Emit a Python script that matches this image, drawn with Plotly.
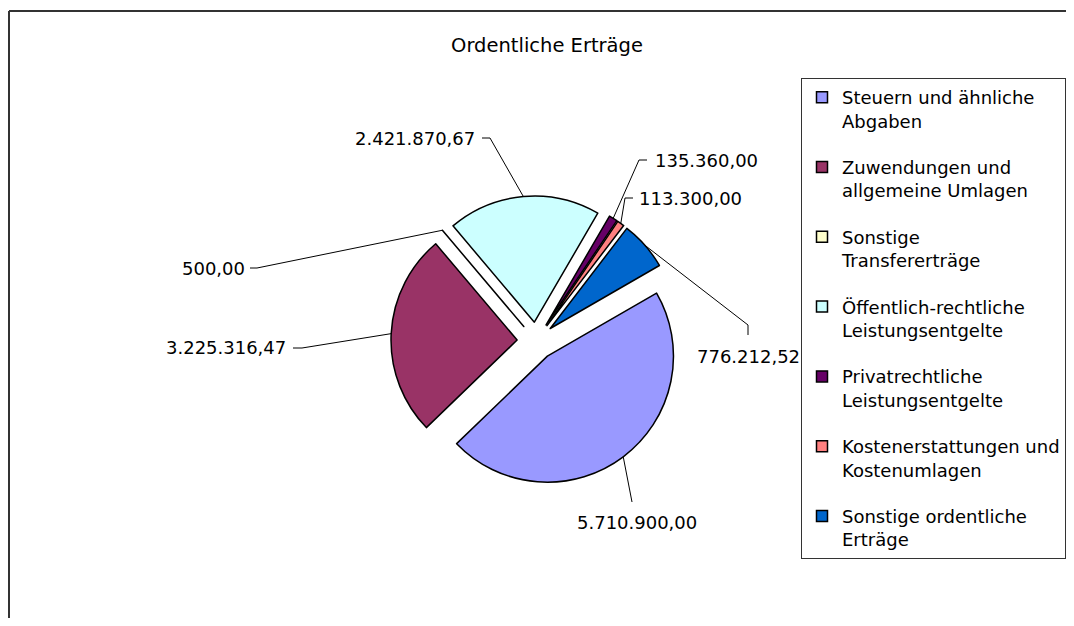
import math
import plotly.graph_objects as go

# Ordentliche Erträge (values in EUR)
categories = [
    "Steuern und ähnliche<br>Abgaben",
    "Zuwendungen und<br>allgemeine Umlagen",
    "Sonstige<br>Transfererträge",
    "Öffentlich-rechtliche<br>Leistungsentgelte",
    "Privatrechtliche<br>Leistungsentgelte",
    "Kostenerstattungen und<br>Kostenumlagen",
    "Sonstige ordentliche<br>Erträge",
]
values = [5710900.00, 3225316.47, 500.00, 2421870.67, 135360.00, 113300.00, 776212.52]
colors = ["#9999FF", "#993366", "#FFFFCC", "#CCFFFF", "#660066", "#FF8080", "#0066CC"]

FONT = "DejaVu Sans"
W, H = 1058, 610          # page body has an 8px margin, so this fills the window
CX, CY, HALF = 528, 333, 145   # pie centre / outer radius incl. pull, in px
PULL = 0.15
ROT = 60

# label placement in px: (text x, text y, xanchor, elbow point, end point)
label_pos = [
    (629, 514, "center", (624, 494), (624, 494)),
    (280, 340, "right", (294, 340), (285, 340)),
    (239, 260, "right", (249, 260), (242, 260)),
    (469, 130, "right", (482, 130), (474, 130)),
    (645, 152, "left", (631, 152), (639, 152)),
    (629, 190, "left", (617, 190), (625, 190)),
    (687, 348, "left", (740, 317), (740, 327)),
]


def de(v):
    s = f"{v:,.2f}"
    return s.replace(",", "X").replace(".", ",").replace("X", ".")


def fx(x):
    return x / W


def fy(y):
    return 1 - y / H


fig = go.Figure()

fig.add_trace(go.Pie(
    labels=categories,
    values=values,
    sort=False,
    direction="clockwise",
    rotation=ROT,
    pull=PULL,
    textinfo="none",
    hoverinfo="label+value",
    showlegend=False,
    marker=dict(colors=colors, line=dict(color="black", width=1.5)),
    domain=dict(x=[fx(CX - HALF), fx(CX + HALF)], y=[fy(CY + HALF), fy(CY - HALF)]),
))

# legend entries, one group each so the gap between them can be set
for i, (name, c) in enumerate(zip(categories, colors)):
    fig.add_trace(go.Scatter(
        x=[None], y=[None], mode="markers", name=name, legendgroup=str(i),
        marker=dict(symbol="square", size=11, color=c, line=dict(color="black", width=1.5)),
        hoverinfo="skip",
    ))

# value labels with leader lines from the middle of each slice's arc
total = sum(values)
cum = 0
shapes = []
annotations = []
for v, (tx, ty, anchor, elbow, end) in zip(values, label_pos):
    mid = math.radians(ROT + 360 * (cum + v / 2) / total)
    cum += v
    ax = CX + HALF * math.sin(mid)
    ay = CY - HALF * math.cos(mid)
    shapes.append(dict(
        type="path", xref="paper", yref="paper",
        path=f"M{fx(ax)},{fy(ay)} L{fx(elbow[0])},{fy(elbow[1])} L{fx(end[0])},{fy(end[1])}",
        line=dict(color="black", width=1),
    ))
    annotations.append(dict(
        text=de(v), x=fx(tx), y=fy(ty), xref="paper", yref="paper",
        xanchor=anchor, yanchor="middle", showarrow=False,
        font=dict(family=FONT, size=18, color="black"),
    ))

# chart area border (top and left edges are all that is visible)
for x0, y0, x1, y1 in [(fx(1), fy(3), 1, fy(3)), (fx(1), fy(3), fx(1), 0)]:
    shapes.append(dict(
        type="line", xref="paper", yref="paper", x0=x0, y0=y0, x1=x1, y1=y1,
        line=dict(color="#333333", width=2),
    ))

fig.update_layout(
    width=W,
    height=H,
    margin=dict(l=0, r=0, t=0, b=0, autoexpand=False),
    paper_bgcolor="white",
    plot_bgcolor="white",
    font=dict(family=FONT, size=18, color="black"),
    xaxis=dict(visible=False),
    yaxis=dict(visible=False),
    title=dict(
        text="Ordentliche Erträge",
        x=fx(539), y=fy(37), xanchor="center", yanchor="middle",
        font=dict(family=FONT, size=19.5, color="black"),
    ),
    legend=dict(
        x=fx(793), y=fy(70), xanchor="left", yanchor="top",
        bordercolor="#333333", borderwidth=1, bgcolor="white",
        valign="top", tracegroupgap=20,
        font=dict(family=FONT, size=18, color="black"),
    ),
    shapes=shapes,
    annotations=annotations,
)

fig.write_html("out.html", config={"displayModeBar": False})
